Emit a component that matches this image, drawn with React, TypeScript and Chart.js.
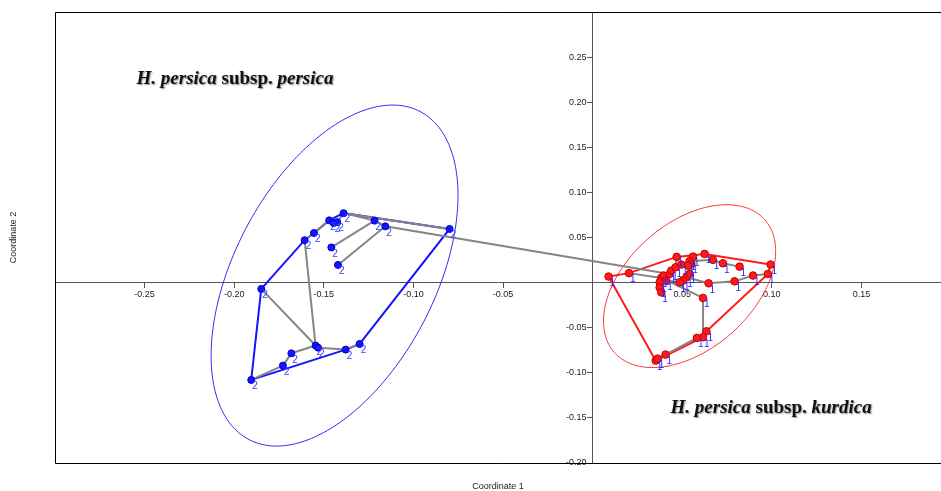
import React, { useEffect, useRef } from 'react';
import { Chart, registerables } from 'chart.js';

Chart.register(...registerables);

// ---- axis ticks ----
const X_TICKS = [-0.25, -0.2, -0.15, -0.1, -0.05, 0.05, 0.1, 0.15];
const Y_TICKS = [-0.2, -0.15, -0.1, -0.05, 0.05, 0.1, 0.15, 0.2, 0.25];
const X_TITLE = 'Coordinate 1';
const Y_TITLE = 'Coordinate 2';

// ---- group 2 : H. persica subsp. persica ----
const PERSICA_X = [-0.139, -0.147, -0.1445, -0.1425, -0.1555, -0.1607, -0.1458, -0.1421, -0.1217, -0.1157, -0.0798, -0.1849, -0.1905, -0.1728, -0.1681, -0.1546, -0.1532, -0.1378, -0.13];
const PERSICA_Y = [0.077, 0.069, 0.066, 0.067, 0.055, 0.047, 0.039, 0.0196, 0.0687, 0.0624, 0.0595, -0.007, -0.1079, -0.092, -0.0784, -0.0698, -0.0721, -0.0743, -0.068];
const PERSICA_LABEL = '2';
const PERSICA_HULL = [11, 5, 4, 1, 0, 10, 18, 17, 12];
const PERSICA_TREE = [[0, 10], [0, 3], [3, 2], [2, 1], [0, 8], [8, 9], [8, 6], [9, 7], [1, 4], [4, 5], [5, 15], [11, 15], [15, 16], [16, 17], [17, 18], [15, 14], [14, 13], [13, 12]];
// ellipse: centre, first and second semi-axis vectors (data units)
const PERSICA_ELLIPSE = [-0.144, 0.0078, 0.0477, 0.1819, 0.0497, -0.0514];

// ---- group 1 : H. persica subsp. kurdica ----
const KURDICA_X = [0.0089, 0.0203, 0.0469, 0.056, 0.0625, 0.0671, 0.0727, 0.082, 0.0993, 0.0978, 0.0895, 0.0792, 0.0647, 0.0616, 0.0635, 0.0616, 0.0582, 0.0407, 0.0352, 0.0363, 0.0383, 0.0374, 0.0374, 0.0383, 0.0396, 0.043, 0.0439, 0.0463, 0.0495, 0.0541, 0.0551, 0.0523, 0.0541, 0.0504, 0.0411, 0.0485, 0.0532];
const KURDICA_Y = [0.0067, 0.0105, 0.0285, 0.0288, 0.0318, 0.0252, 0.0214, 0.0177, 0.02, 0.0096, 0.0078, 0.0014, -0.0008, -0.017, -0.054, -0.0606, -0.0613, -0.0798, -0.0865, -0.0843, 0.0052, 0.0003, -0.0055, -0.0108, 0.0078, 0.0096, 0.0133, 0.017, 0.02, 0.0238, 0.0207, 0.0059, 0.0096, 0.0022, 0.0022, 0.0003, 0.0188];
const KURDICA_LABEL = '1';
const KURDICA_HULL = [0, 1, 2, 4, 8, 9, 14, 15, 18];
const KURDICA_TREE = [[1, 20], [20, 24], [20, 21], [21, 22], [22, 23], [21, 34], [24, 25], [25, 26], [26, 27], [27, 2], [27, 28], [28, 36], [36, 3], [4, 5], [5, 6], [6, 7], [29, 30], [30, 36], [29, 5], [31, 32], [32, 30], [31, 33], [33, 35], [35, 34], [20, 13], [13, 15], [15, 14], [15, 16], [16, 17], [17, 19], [19, 18], [12, 11], [11, 10], [10, 9], [12, 31]];
const KURDICA_ELLIPSE = [0.0541, -0.0039, 0.042, 0.0735, 0.0233, -0.0524];

// link between the two groups (persica index, kurdica index)
const GROUP_LINK = [9, 25];

// group captions: [x, y] anchor in data units
const CAPTIONS = [
  { at: [-0.2545, 0.2206], parts: [['H. persica', true], [' subsp. ', false], ['persica', true]] },
  { at: [0.0435, -0.1441], parts: [['H. persica', true], [' subsp. ', false], ['kurdica', true]] },
];

const BLUE = '#1414ff';
const RED = '#ff1a1a';
const GRAY = '#858585';
const AXIS = '#555';

const toPts = (X: number[], Y: number[]) => X.map((x, i) => ({ x, y: Y[i] }));

const noPad = (s: any) => {
  s.paddingLeft = 0;
  s.paddingRight = 0;
  s.paddingTop = 0;
  s.paddingBottom = 0;
};

export default function App() {
  const ref = useRef<HTMLCanvasElement>(null);

  useEffect(() => {
    document.body.style.margin = '0';
    document.body.style.overflow = 'hidden';
    const canvas = ref.current;
    if (!canvas) return;

    const bluePts = toPts(PERSICA_X, PERSICA_Y);
    const redPts = toPts(KURDICA_X, KURDICA_Y);

    const edge = (a: any, b: any) => ({
      data: [a, b],
      showLine: true,
      borderColor: GRAY,
      borderWidth: 2,
      pointRadius: 0,
      order: 1,
    });
    const hull = (pts: any[], idx: number[], color: string) => ({
      data: idx.map((i) => pts[i]).concat([pts[idx[0]]]),
      showLine: true,
      borderColor: color,
      borderWidth: 2,
      pointRadius: 0,
      order: 2,
    });

    const datasets: any[] = [
      {
        data: bluePts,
        pointRadius: 3.5,
        pointBackgroundColor: BLUE,
        pointBorderColor: '#0000c8',
        pointBorderWidth: 1,
        showLine: false,
        order: 0,
      },
      {
        data: redPts,
        pointRadius: 3.8,
        pointBackgroundColor: RED,
        pointBorderColor: '#c80000',
        pointBorderWidth: 1,
        showLine: false,
        order: 0,
      },
      ...PERSICA_TREE.map(([a, b]) => edge(bluePts[a], bluePts[b])),
      ...KURDICA_TREE.map(([a, b]) => edge(redPts[a], redPts[b])),
      edge(bluePts[GROUP_LINK[0]], redPts[GROUP_LINK[1]]),
      hull(bluePts, PERSICA_HULL, BLUE),
      hull(redPts, KURDICA_HULL, RED),
    ];

    const overlay = {
      id: 'overlay',
      beforeDatasetsDraw(chart: any) {
        const { ctx, chartArea: a, scales } = chart;
        const xs = scales.x;
        const ys = scales.y;

        // y tick labels, placed left of the tick marks of the centred y axis
        ctx.save();
        ctx.fillStyle = '#222';
        ctx.font = '9px "Liberation Sans", Arial, sans-serif';
        ctx.textAlign = 'right';
        ctx.textBaseline = 'middle';
        const x0 = xs.getPixelForValue(0);
        Y_TICKS.forEach((v) => {
          ctx.fillText(v.toFixed(2), x0 - 6, ys.getPixelForValue(v));
        });
        ctx.restore();

        ctx.save();
        ctx.beginPath();
        ctx.rect(a.left, a.top, a.right - a.left, a.bottom - a.top);
        ctx.clip();
        const ell = (p: number[], color: string) => {
          const [cx, cy, ux, uy, vx, vy] = p;
          ctx.beginPath();
          for (let k = 0; k <= 240; k++) {
            const t = (k / 240) * Math.PI * 2;
            const px = xs.getPixelForValue(cx + ux * Math.cos(t) + vx * Math.sin(t));
            const py = ys.getPixelForValue(cy + uy * Math.cos(t) + vy * Math.sin(t));
            if (k === 0) ctx.moveTo(px, py);
            else ctx.lineTo(px, py);
          }
          ctx.closePath();
          ctx.strokeStyle = color;
          ctx.lineWidth = 1;
          ctx.stroke();
        };
        ell(PERSICA_ELLIPSE, '#2a2aff');
        ell(KURDICA_ELLIPSE, '#ff3030');
        ctx.restore();
      },
      afterDatasetsDraw(chart: any) {
        const { ctx, scales } = chart;
        const xs = scales.x;
        const ys = scales.y;
        ctx.save();
        ctx.font = '10px "Liberation Sans", Arial, sans-serif';
        ctx.textAlign = 'left';
        ctx.textBaseline = 'middle';
        const lab = (meta: any, text: string, color: string) => {
          ctx.fillStyle = color;
          meta.data.forEach((el: any) => {
            ctx.fillText(text, el.x + 1, el.y + 6.5);
          });
        };
        lab(chart.getDatasetMeta(0), PERSICA_LABEL, '#3c3cff');
        lab(chart.getDatasetMeta(1), KURDICA_LABEL, '#2424ff');

        // captions
        ctx.textBaseline = 'alphabetic';
        CAPTIONS.forEach((c) => {
          let px = xs.getPixelForValue(c.at[0]);
          const py = ys.getPixelForValue(c.at[1]);
          c.parts.forEach(([txt, it]) => {
            ctx.font = `${it ? 'italic ' : ''}bold 19px "Liberation Serif", "DejaVu Serif", serif`;
            ctx.shadowColor = 'rgba(0,0,0,0.45)';
            ctx.shadowOffsetX = 1;
            ctx.shadowOffsetY = 1;
            ctx.shadowBlur = 1.5;
            ctx.fillStyle = '#111';
            ctx.fillText(txt as string, px, py);
            px += ctx.measureText(txt as string).width;
          });
        });
        ctx.restore();
      },
      afterDraw(chart: any) {
        const { ctx, chartArea: a, width } = chart;
        ctx.save();
        ctx.strokeStyle = '#000';
        ctx.lineWidth = 1;
        ctx.beginPath();
        ctx.moveTo(width, a.top + 0.5);
        ctx.lineTo(a.left + 0.5, a.top + 0.5);
        ctx.lineTo(a.left + 0.5, a.bottom + 0.5);
        ctx.lineTo(width, a.bottom + 0.5);
        ctx.stroke();

        ctx.fillStyle = '#222';
        ctx.font = '9px "Liberation Sans", Arial, sans-serif';
        ctx.textAlign = 'center';
        ctx.textBaseline = 'middle';
        ctx.fillText(X_TITLE, (a.left + a.right) / 2, 487);
        ctx.translate(14, (a.top + a.bottom) / 2);
        ctx.rotate(-Math.PI / 2);
        ctx.fillText(Y_TITLE, 0, 0);
        ctx.restore();
      },
    };

    const tickFont = { family: '"Liberation Sans", Arial, sans-serif', size: 9 };

    const chart = new Chart(canvas, {
      type: 'scatter',
      data: { datasets },
      options: {
        responsive: false,
        animation: false,
        events: [],
        layout: { autoPadding: false, padding: { left: 55, top: 12, right: 0, bottom: 28 } },
        plugins: { legend: { display: false }, tooltip: { enabled: false } },
        scales: {
          x: {
            type: 'linear',
            min: -0.3,
            max: 0.1944,
            position: { y: 0 } as any,
            afterBuildTicks: (s: any) => {
              s.ticks = X_TICKS.map((v) => ({ value: v }));
            },
            afterFit: noPad,
            ticks: {
              autoSkip: false,
              maxRotation: 0,
              font: tickFont,
              color: '#222',
              padding: 2,
              callback: (v: any) => Number(v).toFixed(2),
            },
            grid: { display: true, drawOnChartArea: false, drawTicks: true, tickLength: 5, color: AXIS },
            border: { display: true, color: AXIS, width: 1 },
          },
          y: {
            type: 'linear',
            min: -0.2,
            max: 0.3,
            position: { x: 0 } as any,
            afterBuildTicks: (s: any) => {
              s.ticks = Y_TICKS.map((v) => ({ value: v }));
            },
            afterFit: noPad,
            ticks: { display: false, font: tickFont },
            grid: { display: true, drawOnChartArea: false, drawTicks: true, tickLength: 5, color: AXIS },
            border: { display: true, color: AXIS, width: 1 },
          },
        },
      } as any,
      plugins: [overlay],
    });

    return () => chart.destroy();
  }, []);

  return (
    <div style={{ width: 941, height: 491, background: '#fff' }}>
      <canvas ref={ref} width={941} height={491} style={{ display: 'block' }} />
    </div>
  );
}
